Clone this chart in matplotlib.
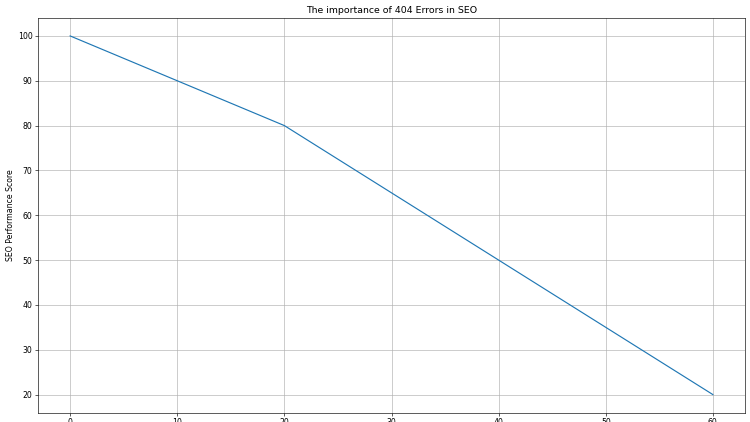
import matplotlib
matplotlib.use("Agg")
import matplotlib.pyplot as plt

errors_404 = [0, 10, 20, 30, 40, 50, 60]
seo_score = [100, 90, 80, 65, 50, 35, 20]

dpi = 56
fig = plt.figure(figsize=(750 / dpi, 422 / dpi), dpi=dpi)
ax = fig.add_axes([38 / 750, 9.5 / 422, (745 - 38) / 750, (412.5 - 18) / 422])
ax.plot(errors_404, seo_score, color="#1f77b4", linewidth=1.5)
ax.set_title("The importance of 404 Errors in SEO", fontsize=12)
ax.set_ylabel("SEO Performance Score", fontsize=10)
ax.grid(True)
ax.tick_params(labelsize=10)
fig.savefig("out.png", dpi=dpi)
